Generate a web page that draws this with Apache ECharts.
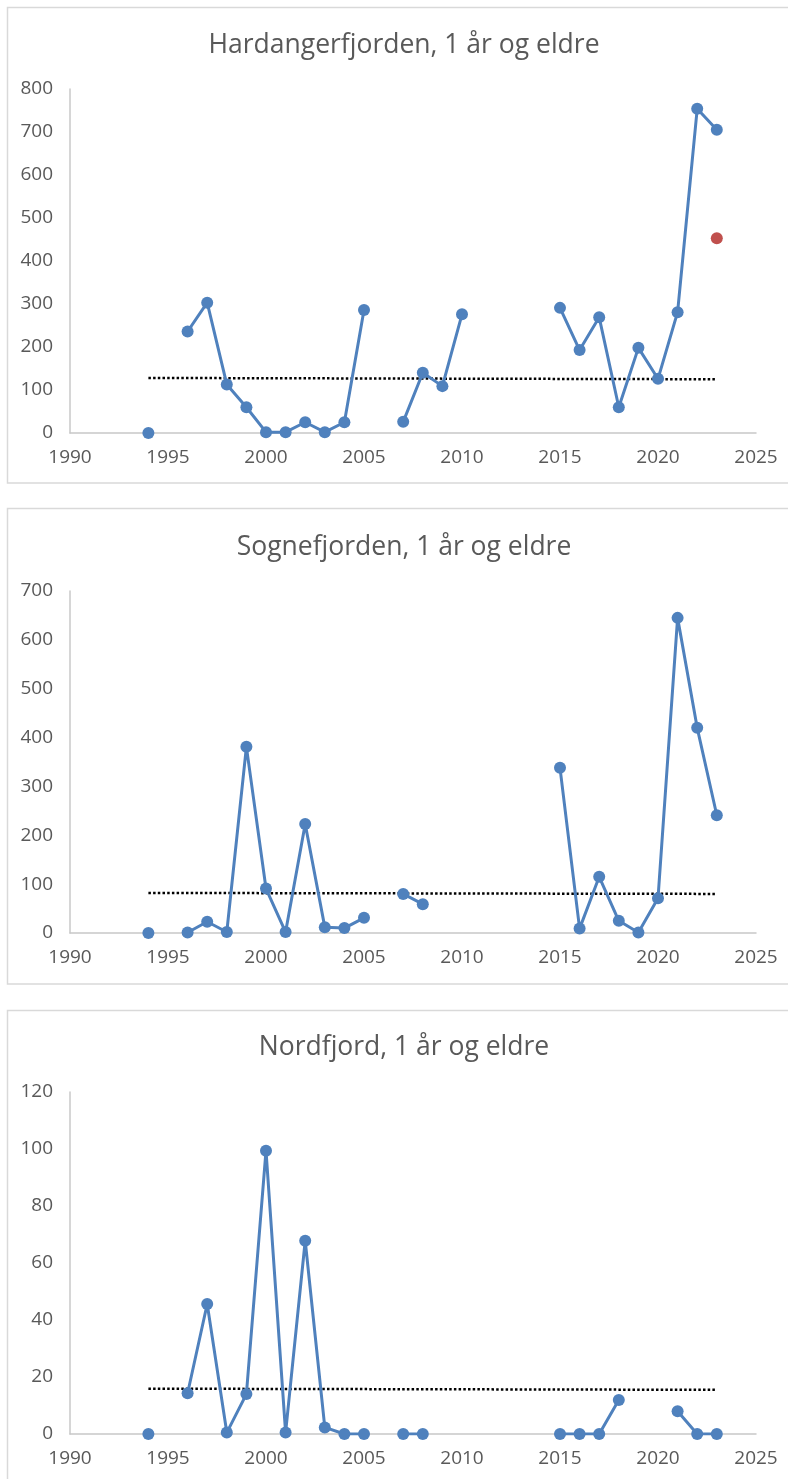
<!DOCTYPE html>
<html>
<head>
<meta charset="utf-8">
<script src="https://cdn.jsdelivr.net/npm/echarts@6.0.0/dist/echarts.min.js"></script>
<style>
  html, body { margin: 0; padding: 0; background: #fff; }
  #chart { width: 788px; height: 1479px; }
</style>
</head>
<body>
<div id="chart"></div>
<script>
// år 1994-2023, null = ingen data
const years = [1994, 1995, 1996, 1997, 1998, 1999, 2000, 2001, 2002, 2003,
  2004, 2005, 2006, 2007, 2008, 2009, 2010, 2011, 2012, 2013,
  2014, 2015, 2016, 2017, 2018, 2019, 2020, 2021, 2022, 2023];

const hardanger = [0, null, 236, 303, 113, 60, 2, 2, 25, 2,
  25, 286, null, 26, 140, 109, 276, null, null, null,
  null, 291, 193, 269, 60, 198, 126, 281, 754, 705];
const hardangerExtra = [[2023, 453]];
const hardangerTrend = [128, 125];

const sogne = [0, null, 1, 23, 2, 381, 91, 2, 223, 12,
  10, 31, null, 80, 59, null, null, null, null, null,
  null, 338, 9, 115, 25, 1, 71, 645, 420, 241];
const sogneTrend = [82, 80];

const nord = [0, null, 14.3, 45.6, 0.5, 14, 99.4, 0.5, 67.8, 2.3,
  0, 0, null, 0, 0, null, null, null, null, null,
  null, 0, 0, 0, 11.9, null, null, 8, 0, 0];
const nordTrend = [15.9, 15.5];

const titles = ['Hardangerfjorden, 1 år og eldre', 'Sognefjorden, 1 år og eldre', 'Nordfjord, 1 år og eldre'];
const yMax = [800, 700, 120];
const yStep = [100, 100, 20];
const xTicks = [1990, 2025, 5]; // min, max, interval

const blue = '#4F81BD';
const red = '#C0504D';
const textColor = '#595959';
const font = '"Open Sans", sans-serif';

// plassering av hver figur
const panels = [
  { boxTop: 7.5, boxBottom: 483, gridTop: 89, gridHeight: 344, titleY: 45 },
  { boxTop: 508.5, boxBottom: 984, gridTop: 591, gridHeight: 342, titleY: 547 },
  { boxTop: 1010.5, boxBottom: 1500, gridTop: 1092, gridHeight: 342, titleY: 1047 }
];

const toPairs = (vals) => years.map((y, i) => [y, vals[i] == null ? '-' : vals[i]]);

const seriesData = [hardanger, sogne, nord];
const trends = [hardangerTrend, sogneTrend, nordTrend];

const grid = [], xAxis = [], yAxis = [], series = [], graphic = [];

panels.forEach((p, i) => {
  graphic.push({
    type: 'rect',
    shape: { x: 7.5, y: p.boxTop, width: 800, height: p.boxBottom - p.boxTop },
    style: { fill: 'none', stroke: '#d9d9d9', lineWidth: 1.5 },
    silent: true
  });
  graphic.push({
    type: 'text',
    x: 404, y: p.titleY,
    style: {
      text: titles[i], fill: textColor, font: '26.5px ' + font,
      textAlign: 'center', textVerticalAlign: 'middle'
    }
  });

  grid.push({ left: 70, width: 686, top: p.gridTop, height: p.gridHeight });

  xAxis.push({
    type: 'value', gridIndex: i,
    min: xTicks[0], max: xTicks[1], interval: xTicks[2],
    axisLine: { show: true, onZero: false, lineStyle: { color: '#c8c8c8', width: 1.5 } },
    axisTick: { show: false },
    splitLine: { show: false },
    axisLabel: { color: textColor, fontSize: 19, fontFamily: font, margin: 15, formatter: (v) => String(v) }
  });
  yAxis.push({
    type: 'value', gridIndex: i,
    min: 0, max: yMax[i], interval: yStep[i],
    axisLine: { show: true, lineStyle: { color: '#c8c8c8', width: 1.5 } },
    axisTick: { show: false },
    splitLine: { show: false },
    axisLabel: { color: textColor, fontSize: 19, fontFamily: font, margin: 17 }
  });

  series.push({
    type: 'line', xAxisIndex: i, yAxisIndex: i,
    data: [[years[0], trends[i][0]], [years[years.length - 1], trends[i][1]]],
    symbol: 'none',
    lineStyle: { color: '#000', width: 2.5, type: [2.5, 2.2] },
    z: 1
  });
  series.push({
    type: 'line', xAxisIndex: i, yAxisIndex: i,
    data: toPairs(seriesData[i]),
    connectNulls: false,
    symbol: 'circle', symbolSize: 12,
    itemStyle: { color: blue },
    lineStyle: { color: blue, width: 3 },
    z: 2
  });
});

series.push({
  type: 'scatter', xAxisIndex: 0, yAxisIndex: 0,
  data: hardangerExtra,
  symbolSize: 12,
  itemStyle: { color: red, opacity: 1 },
  z: 3
});

const myChart = echarts.init(document.getElementById('chart'));
myChart.setOption({
  animation: false,
  grid, xAxis, yAxis, series, graphic
});
</script>
</body>
</html>
